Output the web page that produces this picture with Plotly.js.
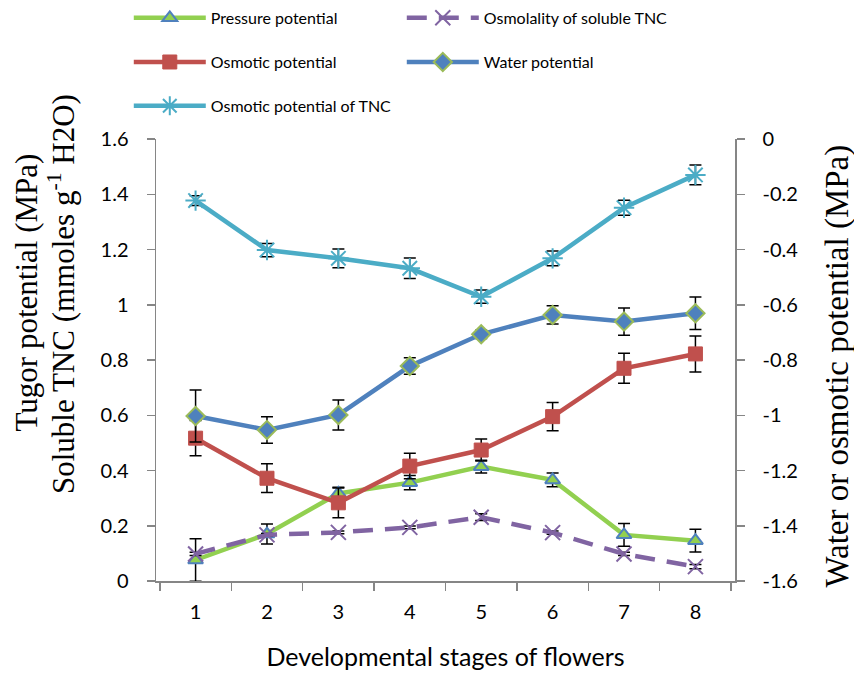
<!DOCTYPE html>
<html><head><meta charset="utf-8">
<script src="https://cdn.plot.ly/plotly-3.0.1.min.js"></script>
<style>html,body{margin:0;padding:0;background:#fff}#chart{width:854px;height:673px}</style>
</head><body><div id="chart"></div>
<script>
const stages = ['1','2','3','4','5','6','7','8'];
const pressurePotential = [0.076,0.170,0.317,0.356,0.414,0.366,0.167,0.146];
const pressureErr = [0.077,0.036,0.022,0.026,0.023,0.025,0.041,0.041];
const osmolalityTNC = [0.098,0.167,0.176,0.194,0.231,0.175,0.098,0.052];
const osmolalityErr = [0.006,0.005,0.005,0.005,0.012,0.006,0.006,0.008];
const osmoticPotential = [-1.083,-1.228,-1.317,-1.184,-1.126,-1.005,-0.830,-0.778];
const osmoticErr = [0.064,0.052,0.054,0.046,0.040,0.051,0.054,0.065];
const waterPotential = [-1.003,-1.053,-0.999,-0.822,-0.707,-0.637,-0.661,-0.631];
const waterErr = [0.094,0.048,0.054,0.030,0.015,0.033,0.049,0.059];
const osmoticTNC = [-0.223,-0.402,-0.432,-0.468,-0.571,-0.432,-0.249,-0.130];
const osmoticTNCErr = [0.018,0.024,0.034,0.037,0.024,0.027,0.027,0.036];
const leftTickVals = [0,0.2,0.4,0.6,0.8,1,1.2,1.4,1.6];
const leftTickText = ['0','0.2','0.4','0.6','0.8','1','1.2','1.4','1.6'];
const rightTickVals = [-1.6,-1.4,-1.2,-1,-0.8,-0.6,-0.4,-0.2,0];
const rightTickText = ['-1.6','-1.4','-1.2','-1','-0.8','-0.6','-0.4','-0.2','0'];

const LBL = 'Lato, "Open Sans", sans-serif';
const SERIF = '"Liberation Serif", "Times New Roman", serif';
function eb(arr){return {type:'data',array:arr,visible:true,color:'#000',thickness:1.5,width:6};}

const traces = [
 {name:'Pressure potential', x:stages, y:pressurePotential, yaxis:'y', legend:'legend', mode:'lines+markers',
  line:{color:'#92D050',width:4.5}, marker:{symbol:'triangle-up',size:13,color:'#92D050',line:{color:'#4F81BD',width:2}}, error_y:eb(pressureErr)},
 {name:'Osmolality of soluble TNC', x:stages, y:osmolalityTNC, yaxis:'y', legend:'legend', mode:'lines+markers',
  line:{color:'#8064A2',width:4.5,dash:'20px,12px'}, marker:{symbol:'x-thin-open',size:15,color:'#8064A2',line:{color:'#8064A2',width:2}}, error_y:eb(osmolalityErr)},
 {name:'Osmotic potential', x:stages, y:osmoticPotential, yaxis:'y2', legend:'legend2', mode:'lines+markers',
  line:{color:'#C0504D',width:4.5}, marker:{symbol:'square',size:14,color:'#C0504D',line:{color:'#C0504D',width:1}}, error_y:eb(osmoticErr)},
 {name:'Water potential', x:stages, y:waterPotential, yaxis:'y2', legend:'legend2', mode:'lines+markers',
  line:{color:'#4F81BD',width:4.5}, marker:{symbol:'diamond',size:14,color:'#4F81BD',line:{color:'#9BBB59',width:2}}, error_y:eb(waterErr)},
 {name:'Osmotic potential of TNC', x:stages, y:osmoticTNC, yaxis:'y2', legend:'legend3', mode:'lines+markers',
  line:{color:'#4BACC6',width:4.5}, marker:{symbol:'asterisk-open',size:17,color:'#4BACC6',line:{color:'#4BACC6',width:2}}, error_y:eb(osmoticTNCErr)}
];

const axisCommon = {showline:true, linecolor:'#868686', linewidth:1.5, ticks:'outside', ticklen:8, tickwidth:1.5, tickcolor:'#868686',
  showgrid:false, zeroline:false, tickfont:{family:LBL,size:20,color:'#000'}};
const legCommon = {orientation:'h', xanchor:'left', yanchor:'middle', entrywidth:186, entrywidthmode:'pixels',
  font:{family:LBL,size:16,color:'#000'}, bgcolor:'rgba(0,0,0,0)', itemwidth:72};

const layout = {
 width:854, height:673, paper_bgcolor:'#fff', plot_bgcolor:'#fff',
 margin:{l:156, r:119, t:139, b:92, autoexpand:false},
 xaxis:Object.assign({}, axisCommon, {type:'category', tickson:'boundaries', ticklabelstandoff:12,
   title:{text:'Developmental stages of flowers', font:{family:LBL,size:25,color:'#000'}, standoff:27}}),
 yaxis:Object.assign({}, axisCommon, {range:[0,1.6], tickvals:leftTickVals, ticktext:leftTickText, ticklabelstandoff:14}),
 yaxis2:Object.assign({}, axisCommon, {range:[-1.6,0], overlaying:'y', side:'right', tickvals:rightTickVals, ticktext:rightTickText, ticklabelstandoff:14}),
 legend:Object.assign({}, legCommon, {x:-0.047, y:1.274}),
 legend2:Object.assign({}, legCommon, {x:-0.047, y:1.174}),
 legend3:Object.assign({}, legCommon, {x:-0.047, y:1.075}),
 annotations:[
  {text:'Tugor potential (MPa)', xref:'paper', yref:'paper', x:-0.2228, y:0.6527, xanchor:'center', yanchor:'middle', textangle:-90, showarrow:false, font:{family:SERIF,size:31,color:'#000'}},
  {text:'Soluble TNC (mmoles g<sup>-1</sup> H2O)', xref:'paper', yref:'paper', x:-0.1641, y:0.6493, xanchor:'center', yanchor:'middle', textangle:-90, showarrow:false, font:{family:SERIF,size:31,color:'#000'}},
  {text:'Water or osmotic potential (MPa)', xref:'paper', yref:'paper', x:1.177, y:0.4864, xanchor:'center', yanchor:'middle', textangle:-90, showarrow:false, font:{family:SERIF,size:33,color:'#000'}}
 ],
 showlegend:true
};
Plotly.newPlot('chart', traces, layout, {displayModeBar:false, staticPlot:true});
</script></body></html>
